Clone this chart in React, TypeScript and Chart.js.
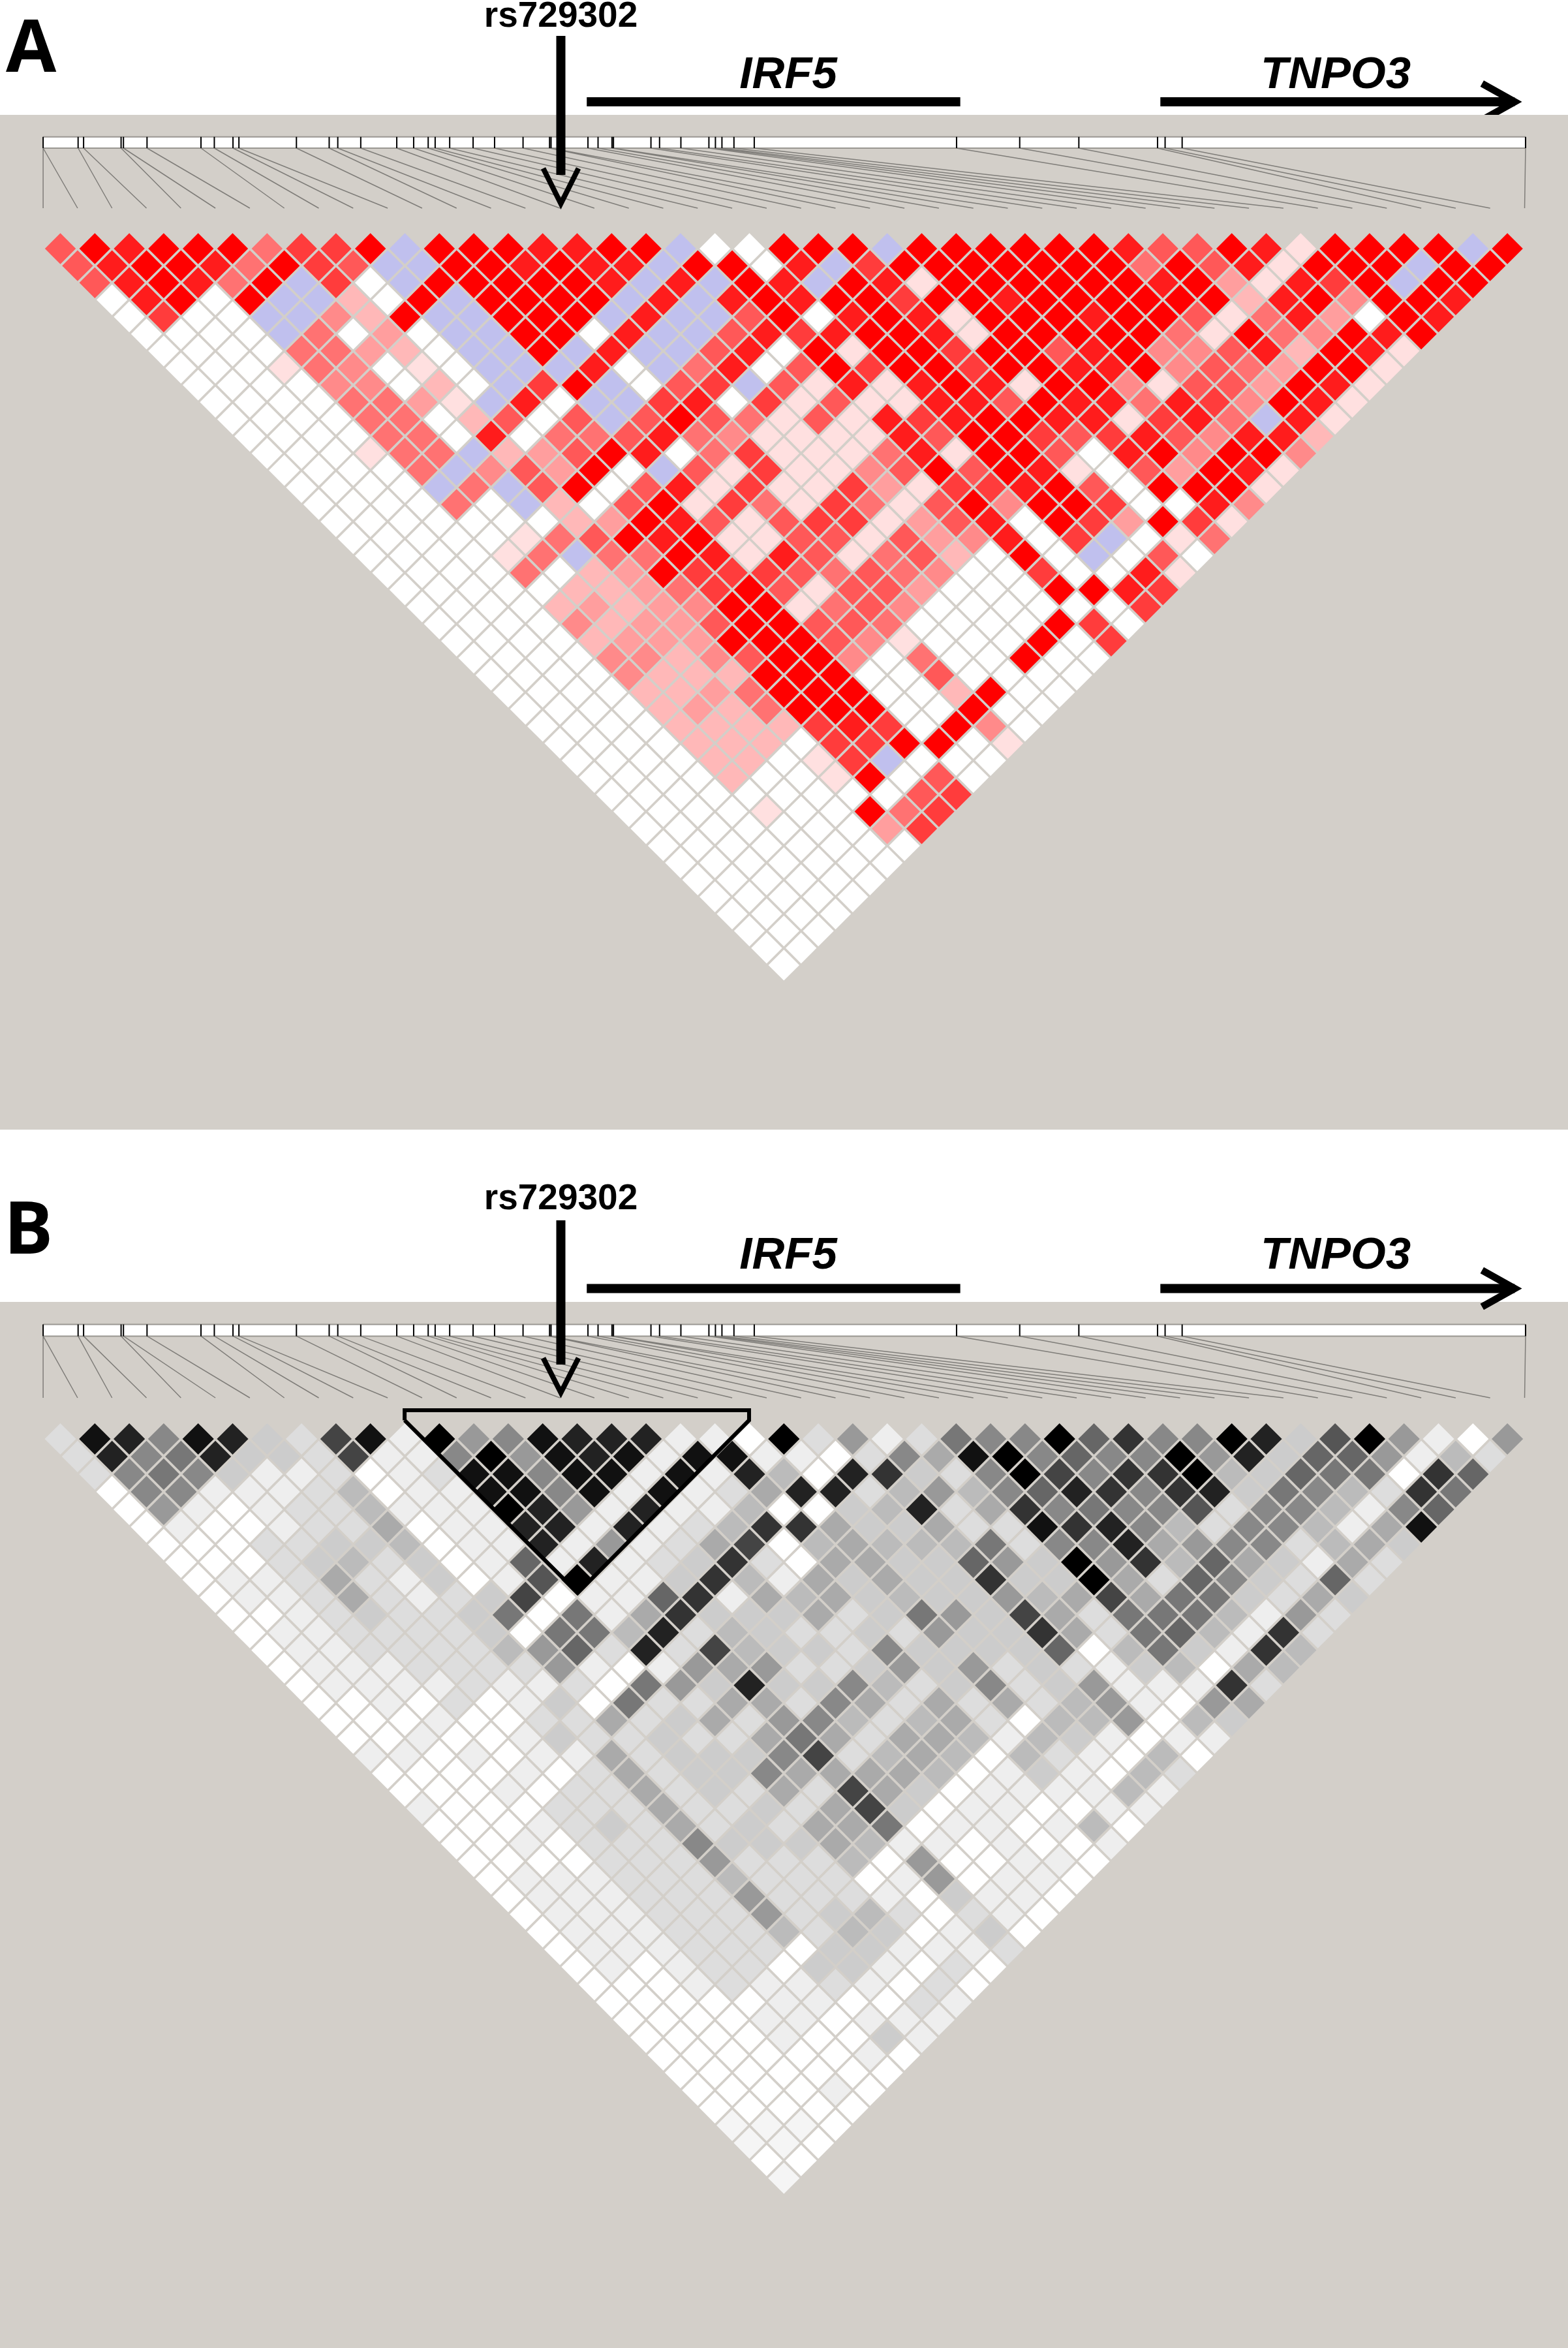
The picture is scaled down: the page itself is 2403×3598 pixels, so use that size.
import React, { useEffect, useRef } from "react";
import { Chart, registerables } from "chart.js";

Chart.register(...registerables);

// SNP positions along the ruler, in kb from the first marker
const snpPositionsKb = [
  0, 0, 2.36, 2.73, 5.26, 5.42, 7.01, 10.65, 11.55, 12.81, 13.21, 17.09, 19.3, 19.88, 21.43, 23.86, 25.0,
  25.98, 26.45, 27.43, 29.01, 30.46, 32.38, 34.17, 34.27, 36.76, 37.44, 38.38, 38.48, 41.01,
  41.59, 43.03, 44.92, 45.36, 45.8, 46.61, 47.98, 61.63, 65.89, 69.88, 75.19, 75.7, 76.85, 100.02,
];

// Panel A: D' classes per diagonal row ('.' white, 'b' blue, 1-9 pink to red)
const ldRowsA = [
  "6 9 8 9 9 9 5 7 7 9 b 9 9 9 8 8 9 9 b . . 9 9 9 b 9 9 9 9 9 9 8 6 6 9 8 1 9 9 9 9 b 9",
  "6 8 9 9 8 5 9 7 6 b b 9 9 8 9 8 8 b 9 9 . 8 b 7 9 9 9 9 9 9 9 5 9 6 8 1 9 9 9 b 9 9",
  "6 8 9 8 5 9 b 7 . b 9 9 9 9 9 8 b 8 b 9 8 b 9 8 1 9 9 9 9 9 9 8 9 3 1 8 7 9 b 9 9",
  ". 8 9 . 9 b b 2 . 9 b 9 9 9 9 b 8 b 8 9 8 9 9 7 9 9 8 9 9 9 9 9 9 2 8 9 4 9 9 8",
  ". 7 . . b b 4 2 9 b b 9 9 9 b 8 b b 6 9 . 8 9 8 1 9 9 9 8 9 9 6 1 5 8 3 . 9 8",
  ". . . . b 5 . 3 . b b 9 9 . 8 b b 6 8 7 8 9 9 8 1 9 9 9 9 9 5 1 9 5 4 9 8 9",
  ". . . . 5 5 3 2 . b b 9 b 8 b b 6 8 . 9 1 9 9 7 9 9 6 8 9 4 4 6 8 2 9 8 1",
  ". . . 1 5 4 . 1 . b b b 8 . b 5 8 . 6 9 7 9 9 7 9 9 8 8 9 4 6 5 3 9 9 1",
  ". . . . 4 4 . 2 . b 7 9 b . 6 7 b 6 1 8 1 8 9 8 1 9 9 4 1 6 6 3 9 8 1",
  ". . . . 5 5 3 1 b 8 . b b 7 8 . 7 1 6 1 1 8 8 6 9 8 8 5 8 7 4 9 8 1",
  ". . . . 5 5 . 2 6 . 6 b 6 9 6 5 1 6 1 8 7 8 9 9 8 8 1 7 8 5 b 8 1",
  ". . . . 5 5 . 8 . 5 5 6 8 5 4 1 1 1 1 8 6 9 9 7 6 7 8 6 4 8 8 2",
  ". . . 1 5 5 b 2 3 6 9 8 . 5 7 1 1 1 5 8 1 9 9 6 . 8 9 4 9 9 4",
  ". . . . 5 b 4 6 3 9 . b 6 1 7 1 1 4 6 9 6 9 8 1 . 6 3 9 8 1",
  ". . . . b 5 b 6 9 . 6 8 1 7 1 1 7 3 1 7 7 8 9 6 . 9 9 9 1",
  ". . . . 5 . b 2 . 6 9 1 7 5 1 7 5 1 6 9 4 9 9 7 . . 8 4",
  ". . . . . . . 2 3 9 8 6 1 6 7 7 1 3 6 8 . 9 7 3 9 7 1",
  ". . . . . 1 5 6 9 8 9 1 1 6 6 1 6 3 4 8 . 7 b . 1 5",
  ". . . . 1 5 b 5 5 9 8 1 8 6 1 5 6 2 . 9 . b . 6 .",
  ". . . . 5 . 2 3 9 7 7 7 6 5 6 5 4 . . 7 . . 8 1",
  ". . . . . 2 2 3 5 7 9 6 1 6 6 3 . . . 9 9 8 7",
  ". . . . 2 3 2 3 4 9 9 1 5 6 4 . . . . . . 7",
  ". . . . 4 2 3 3 6 9 9 6 6 5 . . . . 9 7 .",
  ". . . . 2 3 3 3 9 9 9 6 4 1 . . . 9 . 7",
  ". . . . 4 4 2 4 6 9 9 4 . 5 . . 9 . .",
  ". . . . 4 2 2 2 9 9 9 . . 6 . . . .",
  ". . . . 2 2 3 5 9 9 9 . . 2 9 . .",
  ". . . . 2 3 2 5 9 9 9 . . 9 . .",
  ". . . . 2 2 2 2 7 8 7 . 9 4 .",
  ". . . . 2 2 2 . 7 7 9 9 . 1",
  ". . . . 2 2 . 1 7 b . . .",
  ". . . . 2 . . 1 9 . 6 .",
  ". . . . . . . . . 6 7",
  ". . . . 1 . . 9 5 7",
  ". . . . . . . 3 7",
  "........",
  ".......",
  "......",
  ".....",
  "....",
  "...",
  "..",
  ".",
];

// Panel B: r-squared shade per diagonal row (hex grey level, f white, 0 black, g near white)
const ldRowsB = [
  "d12812cd41e0981222eef0d9ed7880638802c509ef9",
  "d2872ccd4ee8091 21e11eefd8a10868809 2c669ebd",
  "d878ceedfed1181 1e1e2bf23cd80483 30bc677f36",
  "f88eeedbfee1181 e1eda22db9b86238 32c78bd37",
  "f9efeddbeee029e 2eebffcb2da38788 5d88be86",
  "fe ffedda fee22e 2edb33acca dd1328 bd88bea1",
  "fffddccbfee2e9e da4fbabbb7d882a 988dbac",
  "fffdcbdcfe6e2edc 3dfaacc69c093b 6acead",
  "feedadecfe50eec 3beacacc3cc0ad 68cd6d",
  "feedadedc4fee63 eabacbcc9ba4a77 cdac",
  "ffedcddc7f7ea3c ccadc79c4ad777b e9d",
  "feeddddcf77b2db cddcd9cc3ad76be 3d",
  "feeddddb96d2d4b ccd8cccc6fb7ce3b",
  "feeedddd9efe9a9 ddc9c9dcdecbfab",
  "feeeedeed f79c2cc8bdc8dc9eee3d",
  "ffefdfecf7ddaad8adadadb9ef9a",
  "fffeffddadcad98bdbadfbb9fbc",
  "ffeffecddcdda7adaabebcefee",
  "eefefeeadccc84dbabfbdefbf",
  "ffffefdadcc8aaaabfecefbd",
  "fffefddadcdad4acfeeeebe",
  "efffdddaddcda4cfeeffee",
  "fffedcdadcdaa7feefebf",
  "ffefddd8cccabeefeffe",
  "ffffddd9dddbf9ffeef",
  "feeedddbdddfe9feef",
  "feeeddd9dddefceef",
  "feeeddd9dcbdfdef",
  "feeedddbdbcfecf",
  "feeedddfcceeed",
  "fefeddfccefdf",
  "fffedeedefdf",
  "fffffeeffde",
  "ffffeefeee",
  "ffffeffce",
  "ffffffef",
  "fffffff",
  "ffffef",
  "fffff",
  "gggf",
  "ggf",
  "ff",
  "g",
];

const redClasses: Record<string, string> = {
  ".": "#ffffff", b: "#c0c0ee", "1": "#ffe0e0", "2": "#ffb8b8", "3": "#ff9e9e", "4": "#ff8a8a",
  "5": "#ff7272", "6": "#ff5858", "7": "#ff3c3c", "8": "#ff1c1c", "9": "#ff0000",
};
const greyClass = (ch: string) => {
  if (ch === "g") return "#f5f5f5";
  const v = parseInt(ch, 16) * 17;
  return `rgb(${v},${v},${v})`;
};

// Outline of the highlighted block in panel B, in kb and rows
const blockKb = [24.39, 24.39, 47.63, 47.63, 36.07, 24.39];
const blockRows = [-1.06, -1.63, -1.63, -1.06, 8.75, -1.06];

const irf5SpanKb = [36.68, 61.88];
const tnpo3SpanKb = [75.38, 99.55];
const rsMarkerKb = 34.93;

const BG = "#d3cfc9";
const KB_PX = 22.714;
const X0 = 66.1;
const SNP_PX = 52.8;

type PanelCfg = {
  label: string; top: number; height: number; greyTop: number; greyBottom: number;
  firstRowY: number; rowStep: number; radius: number; rulerTop: number; rulerBottom: number;
  fanEnd: number; labelBase: number; labelX: number; rsBase: number; shaftTop: number; shaftEnd: number;
  armTop: number; tipY: number; geneY: number; geneBase: number; arrowOverGrey: boolean;
};

const panelA: PanelCfg = {
  label: "A", top: 0, height: 1800, greyTop: 176, greyBottom: 1731, firstRowY: 381, rowStep: 26.14, radius: 23.7,
  rulerTop: 209.7, rulerBottom: 227, fanEnd: 319, labelBase: 110, labelX: 9, rsBase: 41, shaftTop: 55, shaftEnd: 268,
  armTop: 258, tipY: 312, geneY: 156, geneBase: 135, arrowOverGrey: false,
};
const panelB: PanelCfg = {
  label: "B", top: 1800, height: 1798, greyTop: 1995, greyBottom: 3598, firstRowY: 2205, rowStep: 26.97, radius: 24.1,
  rulerTop: 2029.6, rulerBottom: 2047.4, fanEnd: 2142, labelBase: 1921, labelX: 6, rsBase: 1852.5, shaftTop: 1870, shaftEnd: 2091,
  armTop: 2081, tipY: 2134, geneY: 1974.5, geneBase: 1944, arrowOverGrey: true,
};

function Panel({ cfg, rows, colour, block }: { cfg: PanelCfg; rows: string[]; colour: (c: string) => string; block: boolean }) {
  const ref = useRef<HTMLCanvasElement | null>(null);
  useEffect(() => {
    if (!ref.current) return;
    const rowOf = (y: number) => (y - cfg.firstRowY) / cfg.rowStep;
    const kbPerSnp = SNP_PX / KB_PX;
    const cells: { x: number; y: number }[] = [];
    const colours: string[] = [];
    rows.forEach((raw, r) => {
      const row = raw.replace(/\s/g, "");
      for (let c = 0; c < 43 - r; c++) {
        cells.push({ x: (c + r / 2 + 0.5) * kbPerSnp, y: r });
        colours.push(colour(row[c] ?? "f"));
      }
    });
    const fan: { x: number; y: number }[] = [];
    const ticks: { x: number; y: number }[] = [];
    snpPositionsKb.forEach((kb, i) => {
      fan.push({ x: kb, y: rowOf(cfg.rulerBottom) }, { x: i * kbPerSnp, y: rowOf(cfg.fanEnd) }, { x: NaN, y: NaN });
      ticks.push({ x: kb, y: rowOf(cfg.rulerTop) }, { x: kb, y: rowOf(cfg.rulerBottom) }, { x: NaN, y: NaN });
    });
    const overlay = {
      id: "overlay",
      beforeDatasetsDraw(chart: any) {
        const g = chart.ctx as CanvasRenderingContext2D;
        const xs = chart.scales.x;
        const py = (y: number) => y - cfg.top;
        const grey = () => {
          g.fillStyle = BG;
          g.fillRect(0, py(cfg.greyTop), 2403, cfg.greyBottom - cfg.greyTop);
        };
        const genes = () => {
          g.save();
          g.strokeStyle = "#000";
          g.lineWidth = 14;
          g.lineCap = "butt";
          g.beginPath();
          g.moveTo(xs.getPixelForValue(irf5SpanKb[0]), py(cfg.geneY));
          g.lineTo(xs.getPixelForValue(irf5SpanKb[1]), py(cfg.geneY));
          g.moveTo(xs.getPixelForValue(tnpo3SpanKb[0]), py(cfg.geneY));
          g.lineTo(xs.getPixelForValue(tnpo3SpanKb[1]) - 6, py(cfg.geneY));
          g.stroke();
          const tip = xs.getPixelForValue(tnpo3SpanKb[1]);
          g.lineWidth = 11;
          g.lineJoin = "miter";
          g.beginPath();
          g.moveTo(tip - 56, py(cfg.geneY) - 28);
          g.lineTo(tip - 6, py(cfg.geneY));
          g.lineTo(tip - 56, py(cfg.geneY) + 28);
          g.stroke();
          g.restore();
        };
        if (cfg.arrowOverGrey) { grey(); genes(); } else { genes(); grey(); }
        const x0 = xs.getPixelForValue(snpPositionsKb[0]);
        const x1 = xs.getPixelForValue(snpPositionsKb[snpPositionsKb.length - 1]);
        g.fillStyle = "#ffffff";
        g.fillRect(x0, py(cfg.rulerTop), x1 - x0, cfg.rulerBottom - cfg.rulerTop);
        g.strokeStyle = "#9a9792";
        g.lineWidth = 2;
        g.beginPath();
        g.moveTo(x0, py(cfg.rulerTop)); g.lineTo(x1, py(cfg.rulerTop));
        g.moveTo(x0, py(cfg.rulerBottom)); g.lineTo(x1, py(cfg.rulerBottom));
        g.stroke();
      },
      afterDatasetsDraw(chart: any) {
        const g = chart.ctx as CanvasRenderingContext2D;
        const xs = chart.scales.x;
        const py = (y: number) => y - cfg.top;
        const mx = xs.getPixelForValue(rsMarkerKb);
        g.save();
        g.strokeStyle = "#000";
        g.lineWidth = 14;
        g.beginPath();
        g.moveTo(mx, py(cfg.shaftTop));
        g.lineTo(mx, py(cfg.shaftEnd));
        g.stroke();
        g.lineWidth = 8;
        g.lineJoin = "miter";
        g.beginPath();
        g.moveTo(mx - 27, py(cfg.armTop));
        g.lineTo(mx, py(cfg.tipY));
        g.lineTo(mx + 27, py(cfg.armTop));
        g.stroke();
        g.fillStyle = "#000";
        g.textBaseline = "alphabetic";
        g.textAlign = "center";
        g.font = "bold 55px 'Liberation Sans'";
        g.fillText("rs729302", mx, py(cfg.rsBase));
        g.font = "italic bold 69px 'Liberation Sans'";
        g.fillText("IRF5", 1208, py(cfg.geneBase));
        g.fillText("TNPO3", 2047, py(cfg.geneBase));
        g.textAlign = "left";
        g.font = "bold 112px 'Open Sans'";
        g.fillText(cfg.label, cfg.labelX, py(cfg.labelBase));
        g.restore();
      },
    };
    const datasets: any[] = [
      { data: cells, pointStyle: "rectRot", pointRadius: cfg.radius, pointBorderWidth: 0, backgroundColor: colours, pointBackgroundColor: colours, showLine: false, order: 3 },
      { data: fan, showLine: true, spanGaps: false, pointRadius: 0, borderColor: "#7f7d79", borderWidth: 1.5, order: 2 },
      { data: ticks, showLine: true, spanGaps: false, pointRadius: 0, borderColor: "#000000", borderWidth: 2, order: 1 },
    ];
    if (block) {
      datasets.push({
        data: blockKb.map((x, i) => ({ x, y: blockRows[i] })),
        showLine: true, pointRadius: 0, borderColor: "#000000", borderWidth: 6, borderJoinStyle: "miter", order: 0,
      });
    }
    const chart = new Chart(ref.current, {
      type: "scatter",
      data: { datasets },
      plugins: [overlay as any],
      options: {
        responsive: false,
        animation: false,
        events: [],
        layout: { padding: 0, autoPadding: false },
        plugins: { legend: { display: false }, tooltip: { enabled: false }, title: { display: false } },
        scales: {
          x: { type: "linear", display: false, min: -X0 / KB_PX, max: (2403 - X0) / KB_PX },
          y: { type: "linear", display: false, reverse: true, min: rowOf(cfg.top), max: rowOf(cfg.top + cfg.height) },
        },
      },
    } as any);
    return () => chart.destroy();
  }, [cfg, rows, colour, block]);
  return (
    <canvas
      ref={ref}
      width={2403}
      height={cfg.height}
      style={{ position: "absolute", left: 0, top: cfg.top, display: "block", width: 2403, height: cfg.height }}
    />
  );
}

const redColour = (c: string) => redClasses[c] ?? "#ffffff";

export default function App() {
  return (
    <div style={{ position: "absolute", left: 0, top: 0, width: 2403, height: 3598, background: "#ffffff" }}>
      <Panel cfg={panelA} rows={ldRowsA} colour={redColour} block={false} />
      <Panel cfg={panelB} rows={ldRowsB} colour={greyClass} block={true} />
    </div>
  );
}
